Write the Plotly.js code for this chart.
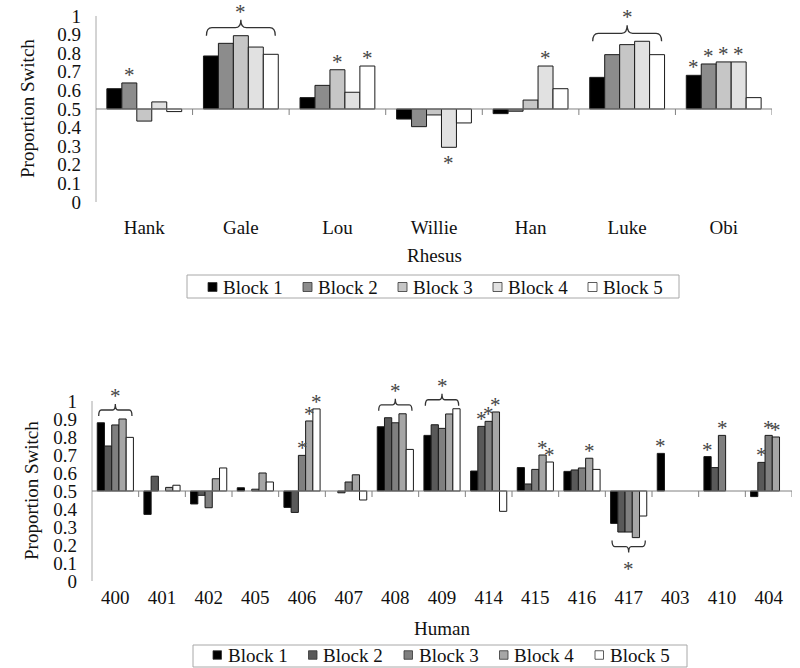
<!DOCTYPE html>
<html><head><meta charset="utf-8">
<script src="https://cdn.plot.ly/plotly-3.0.1.min.js"></script>
<style>html,body{margin:0;padding:0;background:#fff}#chart{width:800px;height:668px}</style>
</head><body><div id="chart"></div>
<script>
// ---------- data ----------
const blockNames = ['Block 1', 'Block 2', 'Block 3', 'Block 4', 'Block 5'];

const rhesusCats = ['Hank', 'Gale', 'Lou', 'Willie', 'Han', 'Luke', 'Obi'];
const rhesusB1 = [0.609, 0.785, 0.561, 0.446, 0.475, 0.670, 0.681];
const rhesusB2 = [0.640, 0.853, 0.627, 0.405, 0.488, 0.792, 0.742];
const rhesusB3 = [0.435, 0.894, 0.711, 0.468, 0.548, 0.846, 0.753];
const rhesusB4 = [0.538, 0.833, 0.590, 0.294, 0.731, 0.864, 0.753];
const rhesusB5 = [0.486, 0.794, 0.731, 0.425, 0.609, 0.792, 0.561];
// significance markers: [category, block number]
const rhesusStars = [['Hank', 2], ['Lou', 3], ['Lou', 5], ['Willie', 4], ['Han', 4],
                     ['Obi', 1], ['Obi', 2], ['Obi', 3], ['Obi', 4]];
const rhesusBraces = ['Gale', 'Luke'];

const humanCats = ['400', '401', '402', '405', '406', '407', '408', '409', '414', '415', '416', '417', '403', '410', '404'];
const humanB1 = [0.879, 0.370, 0.428, 0.518, 0.409, null, 0.857, 0.809, 0.611, 0.630, 0.609, 0.320, 0.709, 0.691, 0.469];
const humanB2 = [0.750, 0.582, 0.476, null, 0.381, 0.490, 0.907, 0.868, 0.859, 0.539, 0.617, 0.272, null, 0.630, 0.659];
const humanB3 = [0.867, null, 0.407, 0.510, 0.698, 0.550, 0.879, 0.848, 0.887, 0.620, 0.628, 0.272, null, 0.809, 0.809];
const humanB4 = [0.900, 0.520, 0.568, 0.600, 0.889, 0.590, 0.929, 0.928, 0.939, 0.700, 0.682, 0.241, null, null, 0.800];
const humanB5 = [0.798, 0.532, 0.628, 0.550, 0.956, 0.450, 0.731, 0.957, 0.387, 0.661, 0.620, 0.361, null, null, null];
const humanStars = [['406', 3], ['406', 4], ['406', 5], ['414', 2], ['414', 3], ['414', 4],
                    ['415', 4], ['415', 5], ['416', 4], ['403', 1], ['410', 1], ['410', 3],
                    ['404', 2], ['404', 3], ['404', 4]];
const humanBraces = ['400', '408', '409', '417'];

const yTickVals = [0, 0.1, 0.2, 0.3, 0.4, 0.5, 0.6, 0.7, 0.8, 0.9, 1];
const yTickText = ['0', '0.1', '0.2', '0.3', '0.4', '0.5', '0.6', '0.7', '0.8', '0.9', '1'];

// ---------- styling ----------
const rhesusColors = ['#000000', '#8c8c8c', '#c6c6c6', '#e1e1e1', '#ffffff'];
const humanColors = ['#000000', '#595959', '#7f7f7f', '#a6a6a6', '#ffffff'];
const W = 800, H = 668;
const BARGAP = 0.225, NB = 5, BW = (1 - BARGAP) / NB;
const FONT = 'Liberation Serif, Times New Roman, serif';
const BASE = 0.5;

const panels = [
  {cats: rhesusCats, series: [rhesusB1, rhesusB2, rhesusB3, rhesusB4, rhesusB5], colors: rhesusColors,
   stars: rhesusStars, braces: rhesusBraces, xa: 'x', ya: 'y', xkey: 'xaxis', ykey: 'yaxis',
   xdom: [96 / W, 772 / W], ydom: [(H - 202) / H, (H - 1.1) / H], yrange: [0, 1.08],
   title: 'Rhesus', titleY: 255, ytitleX: 28, braceH: 16, braceGap: 0, starGap: 12, labelPad: 12,
   leg: {bx0: 187, bx1: 679, by0: 275, by1: 298, sq0: 208, step: 95, sq: 9, cy: 287}},
  {cats: humanCats, series: [humanB1, humanB2, humanB3, humanB4, humanB5], colors: humanColors,
   stars: humanStars, braces: humanBraces, xa: 'x2', ya: 'y2', xkey: 'xaxis2', ykey: 'yaxis2',
   xdom: [92 / W, 792 / W], ydom: [(H - 581) / H, (H - 375.8) / H], yrange: [0, 1.14],
   title: 'Human', titleY: 628, ytitleX: 31, braceH: 12, braceGap: 3, starGap: 11, labelPad: 3,
   leg: {bx0: 193, bx1: 687, by0: 645, by1: 667, sq0: 213, step: 95.5, sq: 8.5, cy: 655}}
];

const traces = [];
const shapes = [];
const annotations = [];
const layout = {
  width: W, height: H, margin: {l: 0, r: 0, t: 0, b: 0},
  paper_bgcolor: '#fff', plot_bgcolor: 'rgba(0,0,0,0)',
  barmode: 'group', bargap: BARGAP, bargroupgap: 0,
  font: {family: FONT, color: '#111', size: 19},
  showlegend: false, hovermode: false
};

const px = v => v / W;
const py = v => (H - v) / H;

panels.forEach(p => {
  const n = p.cats.length;
  const idx = p.cats.map((c, i) => i);
  const ppu = (p.ydom[1] - p.ydom[0]) * H / (p.yrange[1] - p.yrange[0]);
  p.series.forEach((vals, k) => {
    traces.push({
      type: 'bar', name: blockNames[k], x: idx,
      y: vals.map(v => v == null ? null : v - BASE), base: BASE,
      marker: {color: p.colors[k], line: {color: '#1a1a1a', width: 1}},
      xaxis: p.xa, yaxis: p.ya, hoverinfo: 'skip'
    });
  });
  layout[p.xkey] = {
    domain: p.xdom, range: [-0.5, n - 0.5], anchor: p.ya,
    tickmode: 'array', tickvals: idx, ticktext: p.cats, ticks: '',
    showline: false, showgrid: false, zeroline: false, fixedrange: true,
    tickfont: {family: FONT, size: 19, color: '#111'}, ticklabelstandoff: p.labelPad
  };
  layout[p.ykey] = {
    domain: p.ydom, range: p.yrange, anchor: p.xa,
    tickmode: 'array', tickvals: yTickVals, ticktext: yTickText, ticks: '',
    showline: false, showgrid: false, zeroline: false, fixedrange: true,
    tickfont: {family: FONT, size: 19, color: '#111'}, ticklabelstandoff: 14
  };
  // y axis line (0 to 1) and baseline at 0.5
  shapes.push({type: 'line', xref: p.xa + ' domain', yref: p.ya, x0: 0, x1: 0,
               y0: yTickVals[0], y1: yTickVals[yTickVals.length - 1], line: {color: '#a8a8a8', width: 1}});
  shapes.push({type: 'line', xref: p.xa + ' domain', yref: p.ya, x0: 0, x1: 1, y0: BASE, y1: BASE,
               line: {color: '#808080', width: 1}, layer: 'above'});
  idx.forEach(i => {
    shapes.push({type: 'line', xref: p.xa, yref: p.ya, x0: i + 0.5, x1: i + 0.5,
                 y0: BASE, y1: BASE - 6 / ppu, line: {color: '#808080', width: 1}});
  });
  // stars on individual bars
  p.stars.forEach(([cat, b]) => {
    const i = p.cats.indexOf(cat);
    const v = p.series[b - 1][i];
    const up = v >= BASE;
    annotations.push({xref: p.xa, yref: p.ya, x: i + (b - 3) * BW, y: v, text: '*', showarrow: false,
                      font: {family: FONT, size: 21, color: '#444'}, yanchor: 'middle',
                      yshift: up ? p.starGap - 4 : -p.starGap - 4});
  });
  // braces
  p.braces.forEach(cat => {
    const i = p.cats.indexOf(cat);
    const vals = p.series.map(s => s[i]).filter(v => v != null);
    const mean = vals.reduce((a, b) => a + b, 0) / vals.length;
    const dir = mean >= BASE ? 1 : -1;
    const ext = dir > 0 ? Math.max(...vals) : Math.min(...vals);
    const yb = ext + dir * p.braceGap / ppu;
    const h = dir * p.braceH / ppu;
    const ym = yb + h * 0.5, yt = yb + h;
    const hw = 2.5 * BW * 0.92;
    const x0 = i - hw, x1 = i + hw, r = hw * 0.16;
    const path = `M ${x0},${yb} Q ${x0},${ym} ${x0 + r},${ym} L ${i - r},${ym} Q ${i},${ym} ${i},${yt} ` +
                 `Q ${i},${ym} ${i + r},${ym} L ${x1 - r},${ym} Q ${x1},${ym} ${x1},${yb}`;
    shapes.push({type: 'path', xref: p.xa, yref: p.ya, path: path, line: {color: '#333', width: 1.3}});
    annotations.push({xref: p.xa, yref: p.ya, x: i, y: yt, text: '*', showarrow: false,
                      font: {family: FONT, size: 21, color: '#444'}, yanchor: 'middle',
                      yshift: dir > 0 ? 12 - 4 : -12 - 4});
  });
  // axis titles
  annotations.push({xref: 'paper', yref: 'paper', x: (p.xdom[0] + p.xdom[1]) / 2, y: py(p.titleY),
                    text: p.title, showarrow: false, xanchor: 'center', yanchor: 'middle',
                    font: {family: FONT, size: 19, color: '#111'}});
  annotations.push({xref: 'paper', yref: p.ya, x: px(p.ytitleX), y: BASE, text: 'Proportion Switch',
                    textangle: -90, showarrow: false, xanchor: 'center', yanchor: 'middle',
                    font: {family: FONT, size: 19, color: '#111'}});
  // legend box (boxed, horizontal)
  const L = p.leg;
  shapes.push({type: 'rect', xref: 'paper', yref: 'paper', x0: px(L.bx0), x1: px(L.bx1),
               y0: py(L.by1), y1: py(L.by0), line: {color: '#a8a8a8', width: 1}, fillcolor: '#fff'});
  blockNames.forEach((nm, k) => {
    const sx = L.sq0 + k * L.step;
    shapes.push({type: 'rect', xref: 'paper', yref: 'paper', x0: px(sx), x1: px(sx + L.sq),
                 y0: py(L.cy + L.sq / 2), y1: py(L.cy - L.sq / 2),
                 line: {color: '#333', width: 0.8}, fillcolor: p.colors[k]});
    annotations.push({xref: 'paper', yref: 'paper', x: px(sx + L.sq + 4), y: py(L.cy), text: nm,
                      showarrow: false, xanchor: 'left', yanchor: 'middle',
                      font: {family: FONT, size: 19, color: '#111'}});
  });
});

layout.shapes = shapes;
layout.annotations = annotations;
Plotly.newPlot('chart', traces, layout, {displayModeBar: false, staticPlot: true});
</script>
</body></html>
